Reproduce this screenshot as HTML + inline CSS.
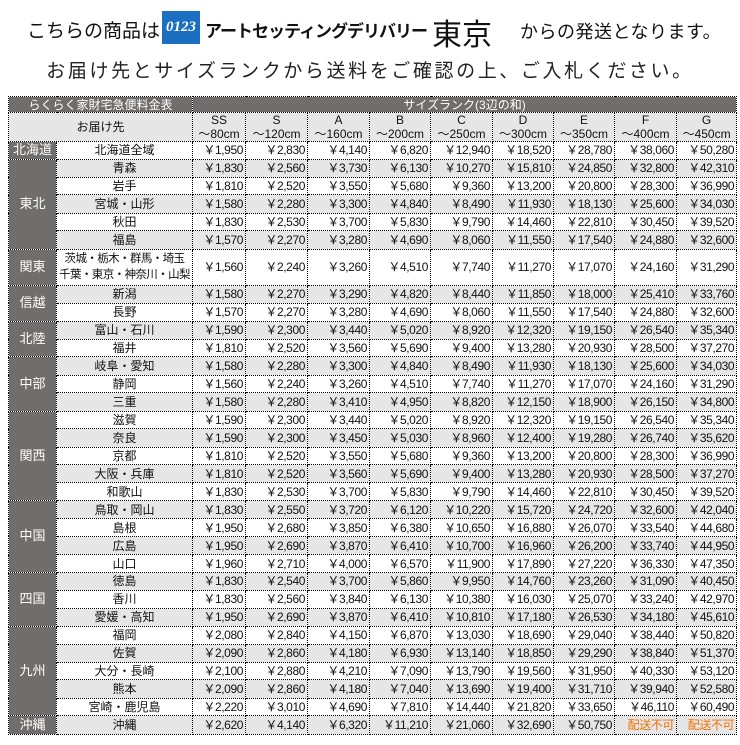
<!DOCTYPE html>
<html><head><meta charset="utf-8"><style>
body{margin:0;width:740px;height:745px;background:#fff;position:relative;overflow:hidden;font-family:"Liberation Sans","Noto Sans CJK JP",sans-serif;color:#111}
.t1{position:absolute;top:10px;left:0;width:740px;height:40px}
.t1 span{position:absolute;white-space:nowrap}
.t2{position:absolute;top:56px;left:0;width:740px;text-align:center;font-size:19px;letter-spacing:2.6px;color:#222}
table{position:absolute;left:8px;top:96px;border-collapse:collapse;table-layout:fixed;width:728px;font-size:12px}
td{border:1px dotted #000;padding:0;height:16.6px;line-height:14px;text-align:center;white-space:nowrap;overflow:hidden}
tr.g td{background:#e6e6e6;height:17.3px}
td.p{text-align:right;padding-right:2px;letter-spacing:-0.4px}
td.r{background:#716d6c!important;color:#fff;font-size:13px}
tr.h1 td{background:#716d6c;color:#fff;height:15px;font-size:12px}
tr.h2 td{background:#e6e6e6;height:28px;line-height:14px}
.o{color:#f07000}
</style></head><body>
<div class="t1">
<span style="left:27px;top:6px;font-size:19px">こちらの商品は</span>
<span style="left:162px;top:1px;width:38px;height:33px;background:#1c6fc0;color:#fff;font-weight:bold;font-style:italic;font-size:15px;line-height:33px;text-align:center;font-family:'Liberation Serif',serif">0123</span>
<span style="left:205px;top:7px;font-size:17px;font-weight:bold;letter-spacing:-1px">アートセッティングデリバリー</span>
<span style="left:432px;top:0px;font-size:30px">東京</span>
<span style="left:520px;top:8px;font-size:18px;letter-spacing:0.5px">からの発送となります。</span>
</div>
<div class="t2">お届け先とサイズランクから送料をご確認の上、ご入札ください。</div>
<table>
<colgroup><col style="width:48px"><col style="width:136px"><col style="width:53px"><col style="width:62px"><col style="width:62px"><col style="width:61px"><col style="width:62px"><col style="width:61px"><col style="width:61px"><col style="width:62px"><col style="width:60px"></colgroup>
<tr class="h1"><td colspan="2">らくらく家財宅急便料金表</td><td colspan="9">サイズランク(3辺の和)</td></tr>
<tr class="h2"><td colspan="2">お届け先</td><td>SS<br>～80cm</td><td>S<br>～120cm</td><td>A<br>～160cm</td><td>B<br>～200cm</td><td>C<br>～250cm</td><td>D<br>～300cm</td><td>E<br>～350cm</td><td>F<br>～400cm</td><td>G<br>～450cm</td></tr>
<tr><td class="r">北海道</td><td>北海道全域</td><td class="p">￥1,950</td><td class="p">￥2,830</td><td class="p">￥4,140</td><td class="p">￥6,820</td><td class="p">￥12,940</td><td class="p">￥18,520</td><td class="p">￥28,780</td><td class="p">￥38,060</td><td class="p">￥50,280</td></tr>
<tr class="g"><td class="r" rowspan="5">東北</td><td>青森</td><td class="p">￥1,830</td><td class="p">￥2,560</td><td class="p">￥3,730</td><td class="p">￥6,130</td><td class="p">￥10,270</td><td class="p">￥15,810</td><td class="p">￥24,850</td><td class="p">￥32,800</td><td class="p">￥42,310</td></tr>
<tr><td>岩手</td><td class="p">￥1,810</td><td class="p">￥2,520</td><td class="p">￥3,550</td><td class="p">￥5,680</td><td class="p">￥9,360</td><td class="p">￥13,200</td><td class="p">￥20,800</td><td class="p">￥28,300</td><td class="p">￥36,990</td></tr>
<tr class="g"><td>宮城・山形</td><td class="p">￥1,580</td><td class="p">￥2,280</td><td class="p">￥3,300</td><td class="p">￥4,840</td><td class="p">￥8,490</td><td class="p">￥11,930</td><td class="p">￥18,130</td><td class="p">￥25,600</td><td class="p">￥34,030</td></tr>
<tr><td>秋田</td><td class="p">￥1,830</td><td class="p">￥2,530</td><td class="p">￥3,700</td><td class="p">￥5,830</td><td class="p">￥9,790</td><td class="p">￥14,460</td><td class="p">￥22,810</td><td class="p">￥30,450</td><td class="p">￥39,520</td></tr>
<tr class="g"><td>福島</td><td class="p">￥1,570</td><td class="p">￥2,270</td><td class="p">￥3,280</td><td class="p">￥4,690</td><td class="p">￥8,060</td><td class="p">￥11,550</td><td class="p">￥17,540</td><td class="p">￥24,880</td><td class="p">￥32,600</td></tr>
<tr><td class="r" style="height:35px">関東</td><td style="font-size:11.5px;letter-spacing:-0.6px;line-height:16px">茨城・栃木・群馬・埼玉<br>千葉・東京・神奈川・山梨</td><td class="p">￥1,560</td><td class="p">￥2,240</td><td class="p">￥3,260</td><td class="p">￥4,510</td><td class="p">￥7,740</td><td class="p">￥11,270</td><td class="p">￥17,070</td><td class="p">￥24,160</td><td class="p">￥31,290</td></tr>
<tr class="g"><td class="r" rowspan="2">信越</td><td>新潟</td><td class="p">￥1,580</td><td class="p">￥2,270</td><td class="p">￥3,290</td><td class="p">￥4,820</td><td class="p">￥8,440</td><td class="p">￥11,850</td><td class="p">￥18,000</td><td class="p">￥25,410</td><td class="p">￥33,760</td></tr>
<tr><td>長野</td><td class="p">￥1,570</td><td class="p">￥2,270</td><td class="p">￥3,280</td><td class="p">￥4,690</td><td class="p">￥8,060</td><td class="p">￥11,550</td><td class="p">￥17,540</td><td class="p">￥24,880</td><td class="p">￥32,600</td></tr>
<tr class="g"><td class="r" rowspan="2">北陸</td><td>富山・石川</td><td class="p">￥1,590</td><td class="p">￥2,300</td><td class="p">￥3,440</td><td class="p">￥5,020</td><td class="p">￥8,920</td><td class="p">￥12,320</td><td class="p">￥19,150</td><td class="p">￥26,540</td><td class="p">￥35,340</td></tr>
<tr><td>福井</td><td class="p">￥1,810</td><td class="p">￥2,520</td><td class="p">￥3,560</td><td class="p">￥5,690</td><td class="p">￥9,400</td><td class="p">￥13,280</td><td class="p">￥20,930</td><td class="p">￥28,500</td><td class="p">￥37,270</td></tr>
<tr class="g"><td class="r" rowspan="3">中部</td><td>岐阜・愛知</td><td class="p">￥1,580</td><td class="p">￥2,280</td><td class="p">￥3,300</td><td class="p">￥4,840</td><td class="p">￥8,490</td><td class="p">￥11,930</td><td class="p">￥18,130</td><td class="p">￥25,600</td><td class="p">￥34,030</td></tr>
<tr><td>静岡</td><td class="p">￥1,560</td><td class="p">￥2,240</td><td class="p">￥3,260</td><td class="p">￥4,510</td><td class="p">￥7,740</td><td class="p">￥11,270</td><td class="p">￥17,070</td><td class="p">￥24,160</td><td class="p">￥31,290</td></tr>
<tr class="g"><td>三重</td><td class="p">￥1,580</td><td class="p">￥2,280</td><td class="p">￥3,410</td><td class="p">￥4,950</td><td class="p">￥8,820</td><td class="p">￥12,150</td><td class="p">￥18,900</td><td class="p">￥26,150</td><td class="p">￥34,800</td></tr>
<tr><td class="r" rowspan="5">関西</td><td>滋賀</td><td class="p">￥1,590</td><td class="p">￥2,300</td><td class="p">￥3,440</td><td class="p">￥5,020</td><td class="p">￥8,920</td><td class="p">￥12,320</td><td class="p">￥19,150</td><td class="p">￥26,540</td><td class="p">￥35,340</td></tr>
<tr class="g"><td>奈良</td><td class="p">￥1,590</td><td class="p">￥2,300</td><td class="p">￥3,450</td><td class="p">￥5,030</td><td class="p">￥8,960</td><td class="p">￥12,400</td><td class="p">￥19,280</td><td class="p">￥26,740</td><td class="p">￥35,620</td></tr>
<tr><td>京都</td><td class="p">￥1,810</td><td class="p">￥2,520</td><td class="p">￥3,550</td><td class="p">￥5,680</td><td class="p">￥9,360</td><td class="p">￥13,200</td><td class="p">￥20,800</td><td class="p">￥28,300</td><td class="p">￥36,990</td></tr>
<tr class="g"><td>大阪・兵庫</td><td class="p">￥1,810</td><td class="p">￥2,520</td><td class="p">￥3,560</td><td class="p">￥5,690</td><td class="p">￥9,400</td><td class="p">￥13,280</td><td class="p">￥20,930</td><td class="p">￥28,500</td><td class="p">￥37,270</td></tr>
<tr><td>和歌山</td><td class="p">￥1,830</td><td class="p">￥2,530</td><td class="p">￥3,700</td><td class="p">￥5,830</td><td class="p">￥9,790</td><td class="p">￥14,460</td><td class="p">￥22,810</td><td class="p">￥30,450</td><td class="p">￥39,520</td></tr>
<tr class="g"><td class="r" rowspan="4">中国</td><td>鳥取・岡山</td><td class="p">￥1,830</td><td class="p">￥2,550</td><td class="p">￥3,720</td><td class="p">￥6,120</td><td class="p">￥10,220</td><td class="p">￥15,720</td><td class="p">￥24,720</td><td class="p">￥32,600</td><td class="p">￥42,040</td></tr>
<tr><td>島根</td><td class="p">￥1,950</td><td class="p">￥2,680</td><td class="p">￥3,850</td><td class="p">￥6,380</td><td class="p">￥10,650</td><td class="p">￥16,880</td><td class="p">￥26,070</td><td class="p">￥33,540</td><td class="p">￥44,680</td></tr>
<tr class="g"><td>広島</td><td class="p">￥1,950</td><td class="p">￥2,690</td><td class="p">￥3,870</td><td class="p">￥6,410</td><td class="p">￥10,700</td><td class="p">￥16,960</td><td class="p">￥26,200</td><td class="p">￥33,740</td><td class="p">￥44,950</td></tr>
<tr><td>山口</td><td class="p">￥1,960</td><td class="p">￥2,710</td><td class="p">￥4,000</td><td class="p">￥6,570</td><td class="p">￥11,900</td><td class="p">￥17,890</td><td class="p">￥27,220</td><td class="p">￥36,330</td><td class="p">￥47,350</td></tr>
<tr class="g"><td class="r" rowspan="3">四国</td><td>徳島</td><td class="p">￥1,830</td><td class="p">￥2,540</td><td class="p">￥3,700</td><td class="p">￥5,860</td><td class="p">￥9,950</td><td class="p">￥14,760</td><td class="p">￥23,260</td><td class="p">￥31,090</td><td class="p">￥40,450</td></tr>
<tr><td>香川</td><td class="p">￥1,830</td><td class="p">￥2,560</td><td class="p">￥3,840</td><td class="p">￥6,130</td><td class="p">￥10,380</td><td class="p">￥16,030</td><td class="p">￥25,070</td><td class="p">￥33,240</td><td class="p">￥42,970</td></tr>
<tr class="g"><td>愛媛・高知</td><td class="p">￥1,950</td><td class="p">￥2,690</td><td class="p">￥3,870</td><td class="p">￥6,410</td><td class="p">￥10,810</td><td class="p">￥17,180</td><td class="p">￥26,530</td><td class="p">￥34,180</td><td class="p">￥45,610</td></tr>
<tr><td class="r" rowspan="5">九州</td><td>福岡</td><td class="p">￥2,080</td><td class="p">￥2,840</td><td class="p">￥4,150</td><td class="p">￥6,870</td><td class="p">￥13,030</td><td class="p">￥18,690</td><td class="p">￥29,040</td><td class="p">￥38,440</td><td class="p">￥50,820</td></tr>
<tr class="g"><td>佐賀</td><td class="p">￥2,090</td><td class="p">￥2,860</td><td class="p">￥4,180</td><td class="p">￥6,930</td><td class="p">￥13,140</td><td class="p">￥18,850</td><td class="p">￥29,290</td><td class="p">￥38,840</td><td class="p">￥51,370</td></tr>
<tr><td>大分・長崎</td><td class="p">￥2,100</td><td class="p">￥2,880</td><td class="p">￥4,210</td><td class="p">￥7,090</td><td class="p">￥13,790</td><td class="p">￥19,560</td><td class="p">￥31,950</td><td class="p">￥40,330</td><td class="p">￥53,120</td></tr>
<tr class="g"><td>熊本</td><td class="p">￥2,090</td><td class="p">￥2,860</td><td class="p">￥4,180</td><td class="p">￥7,040</td><td class="p">￥13,690</td><td class="p">￥19,400</td><td class="p">￥31,710</td><td class="p">￥39,940</td><td class="p">￥52,580</td></tr>
<tr><td>宮崎・鹿児島</td><td class="p">￥2,220</td><td class="p">￥3,010</td><td class="p">￥4,690</td><td class="p">￥7,810</td><td class="p">￥14,440</td><td class="p">￥21,820</td><td class="p">￥33,650</td><td class="p">￥46,110</td><td class="p">￥60,490</td></tr>
<tr class="g"><td class="r">沖縄</td><td>沖縄</td><td class="p">￥2,620</td><td class="p">￥4,140</td><td class="p">￥6,320</td><td class="p">￥11,210</td><td class="p">￥21,060</td><td class="p">￥32,690</td><td class="p">￥50,750</td><td class="p o">配送不可</td><td class="p o">配送不可</td></tr>
</table>
</body></html>
